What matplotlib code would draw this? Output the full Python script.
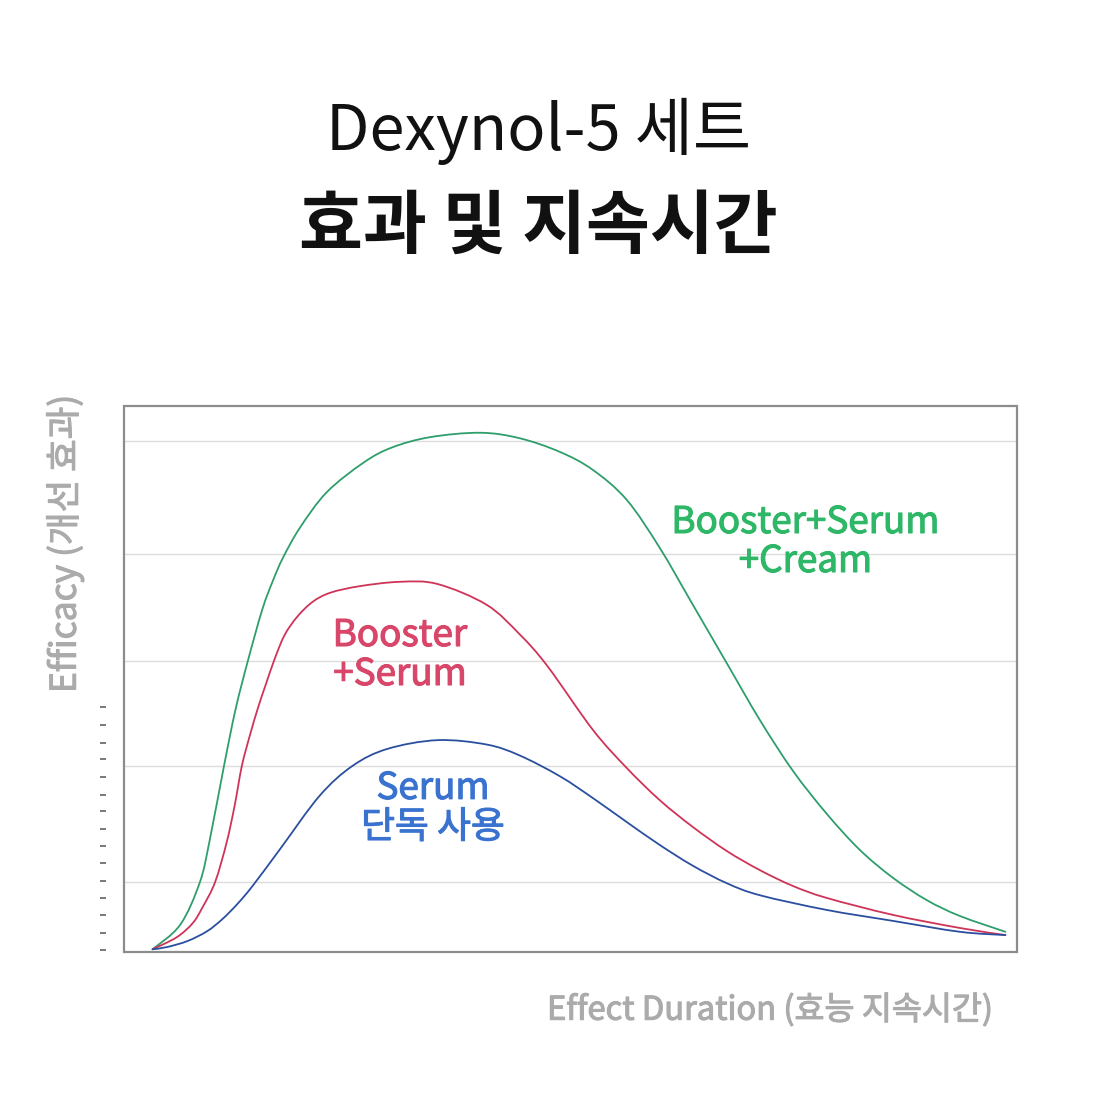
import matplotlib
matplotlib.use("Agg")
import matplotlib.pyplot as plt
import matplotlib.patheffects as pe
from matplotlib.patches import Rectangle, PathPatch
from matplotlib.path import Path

plt.rcParams['font.family'] = ['Noto Sans CJK KR', 'DejaVu Sans']

# ---- data (x: effect duration 0-100, y: efficacy 0-100) ----
green_x = [3.2, 6.3, 8.5, 9.6, 11.2, 12.5, 13.9, 15.5, 16.7, 17.8, 19.7, 22.7, 26.8,
           30.0, 34.3, 39.9, 44.3, 48.8, 52.5, 56.3, 60.0, 63.7, 67.5, 71.2, 74.9,
           78.7, 82.4, 86.1, 89.9, 93.6, 98.7]
green_y = [0.5, 5.0, 12.8, 20.5, 34.1, 44.5, 53.5, 62.8, 68.1, 72.2, 77.7, 84.2, 89.6,
           92.4, 94.3, 95.1, 94.1, 91.6, 88.3, 82.8, 74.0, 63.6, 52.9, 42.5, 33.2,
           25.3, 18.7, 13.6, 9.5, 6.6, 3.7]

red_x = [3.2, 5.9, 7.7, 8.8, 10.2, 11.5, 12.4, 13.2, 14.1, 15.0, 15.9, 16.9, 18.0,
         19.4, 21.1, 23.1, 26.4, 30.9, 35.1, 40.6, 44.3, 47.4, 52.5, 56.3,
         60.0, 63.7, 67.5, 71.2, 74.9, 78.7, 86.1, 93.6, 98.7]
red_y = [0.5, 2.7, 5.3, 8.2, 12.8, 20.1, 26.9, 34.1, 39.7, 44.7, 49.1, 53.8, 58.1,
         61.4, 64.1, 65.8, 67.0, 67.8, 67.4, 63.6, 58.2, 52.4, 40.7, 33.7,
         27.8, 22.9, 18.5, 15.0, 12.1, 9.9, 6.8, 4.4, 3.1]

blue_x = [3.2, 4.8, 7.1, 9.3, 11.0, 12.7, 14.4, 17.5, 21.9, 25.6, 29.5, 35.1, 40.6,
          44.3, 48.8, 52.5, 56.3, 60.0, 63.7, 67.5, 71.2, 78.7, 86.1, 93.6, 98.7]
blue_y = [0.5, 0.9, 2.0, 3.8, 6.0, 8.8, 12.1, 18.9, 28.6, 34.1, 37.2, 38.8, 38.0,
          36.0, 32.2, 28.2, 23.8, 19.6, 15.8, 12.6, 10.4, 7.7, 5.7, 3.7, 3.1]

grid_levels = [12.8, 34.1, 53.3, 72.9, 93.6]
minor_ticks = [0.4, 3.5, 6.7, 9.8, 13.0, 16.3, 19.4, 22.6, 25.8, 28.8, 32.1, 35.3,
               38.3, 41.6, 44.8]

labels = {
    'green': ("Booster+Serum\n+Cream", 76.3, 75.1),
    'red': ("Booster\n+Serum", 30.9, 54.4),
    'blue': ("Serum\n단독 사용", 34.6, 26.4),
}

title_1 = "Dexynol-5 세트"
title_2 = "효과 및 지속시간"
x_label = "Effect Duration (효능 지속시간)"
y_label = "Efficacy (개선 효과)"

# ---- styles ----
line_colors = {'green': '#2e9e6c', 'red': '#cf3458', 'blue': '#2b4f9f'}
text_colors = {'green': '#2fb768', 'red': '#d8476a', 'blue': '#3a72cf'}
gray = '#ababab'


def heavier(color, w=0.8):
    return [pe.withStroke(linewidth=w, foreground=color)]


def smooth_path(xs, ys):
    """Catmull-Rom curve through the data points, expressed as cubic Beziers."""
    pts = list(zip(xs, ys))
    verts = [pts[0]]
    codes = [Path.MOVETO]
    n = len(pts)
    for i in range(n - 1):
        p0 = pts[i - 1] if i > 0 else pts[i]
        p1 = pts[i]
        p2 = pts[i + 1]
        p3 = pts[i + 2] if i + 2 < n else pts[i + 1]
        c1 = (p1[0] + (p2[0] - p0[0]) / 6, p1[1] + (p2[1] - p0[1]) / 6)
        c2 = (p2[0] - (p3[0] - p1[0]) / 6, p2[1] - (p3[1] - p1[1]) / 6)
        verts += [c1, c2, p2]
        codes += [Path.CURVE4] * 3
    return Path(verts, codes)


fig = plt.figure(figsize=(11, 11), dpi=100)
fig.patch.set_facecolor('white')
ax = fig.add_axes([124/1100, 148/1100, 893/1100, 546/1100])
ax.set_xlim(0, 100)
ax.set_ylim(0, 100)

for key, xs, ys in (('green', green_x, green_y), ('red', red_x, red_y),
                    ('blue', blue_x, blue_y)):
    ax.add_patch(PathPatch(smooth_path(xs, ys), fill=False, ec=line_colors[key],
                           lw=1.3, zorder=3, capstyle='round', joinstyle='round'))

for key, (txt, lx, ly) in labels.items():
    ax.text(lx, ly, txt, color=text_colors[key], fontsize=26.5,
            ha='center', va='center', linespacing=1.0, zorder=4,
            path_effects=heavier(text_colors[key]))

# grid
ax.set_yticks(grid_levels)
ax.set_yticks(minor_ticks, minor=True)
ax.yaxis.grid(True, which='major', color='#dcdcdc', lw=1.0, zorder=0)
ax.tick_params(axis='y', which='major', length=0, labelleft=False)
ax.tick_params(axis='y', which='minor', length=4.3, width=1.1, color='#555555',
               direction='out')
ax.set_xticks([])
ax.set_axisbelow(True)
for s in ax.spines.values():
    s.set_visible(False)
ax.spines['left'].set_position(('outward', 13))
ax.add_patch(Rectangle((0, 0), 1, 1, transform=ax.transAxes, fill=False,
                       ec='#8c8c8c', lw=1.6, clip_on=False, zorder=5))

fig.text(538/1100, 1 - 131/1100, title_1, ha='center', va='center',
         fontsize=45.5, color='#111111')
fig.text(538/1100, 1 - 228/1100, title_2, ha='center', va='center',
         fontsize=50, fontweight='bold', color='#111111')
fig.text(770/1100, 1 - 1010/1100, x_label, ha='center', va='center',
         fontsize=23.5, color=gray, path_effects=heavier(gray))
fig.text(65/1100, 1 - 544/1100, y_label, ha='center', va='center', rotation=90,
         fontsize=25.5, color=gray, path_effects=heavier(gray))

fig.savefig('out.png', dpi=100, facecolor='white')
